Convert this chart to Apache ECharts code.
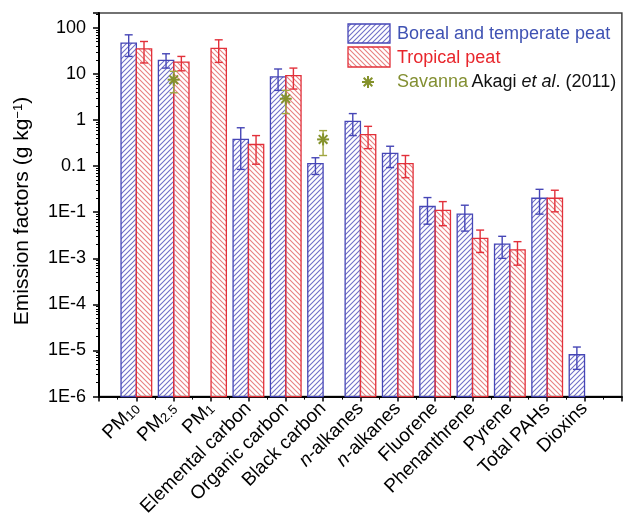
<!DOCTYPE html>
<html>
<head>
<meta charset="utf-8">
<script src="https://cdn.jsdelivr.net/npm/echarts@6/dist/echarts.min.js"></script>
<style>
html,body{margin:0;padding:0;background:#fff;}
#chart{width:624px;height:519px;}
</style>
</head>
<body>
<div id="chart"></div>
<script>
// ---- data ----
const categories = ['PM10','PM2.5','PM1','Elemental carbon','Organic carbon','Black carbon','n-alkanes','n-alkanes','Fluorene','Phenanthrene','Pyrene','Total PAHs','Dioxins'];
const boreal      = [46.7, 19.7, null, 0.38, 8.6, 0.113, 0.94, 0.19, 0.0133, 0.0091, 0.00203, 0.0201, 8.1e-6];
const borealLow   = [24,   13.4, null, 0.085, 4.4, 0.066, 0.46, 0.093, 0.0055, 0.0039, 0.001, 0.0091, 3.9e-6];
const borealHigh  = [70.6, 27.4, null, 0.68, 12.8, 0.152, 1.38, 0.27, 0.0208, 0.0142, 0.003, 0.0314, 1.19e-5];
const tropical     = [35,   18.1, 36,   0.295, 9.2, null, 0.485, 0.113, 0.011, 0.0027, 0.00153, 0.0201, null];
const tropicalLow  = [17.3, 11.7, 17.8, 0.11,  4.7, null, 0.24,  0.056, 0.0051, 0.00134, 0.00071, 0.0102, null];
const tropicalHigh = [50.6, 24,   55,   0.46, 13.4, null, 0.73,  0.17,  0.017, 0.0041, 0.0023, 0.03, null];
const savanna     = [null, 7.5, null, null, 2.9, 0.38, null, null, null, null, null, null, null];
const savannaLow  = [null, 3.9, null, null, 1.38, 0.17, null, null, null, null, null, null, null];
const savannaHigh = [null, 11.4, null, null, 4.4, 0.59, null, null, null, null, null, null, null];
const yTickLabels = {'2':'100','1':'10','0':'1','-1':'0.1','-2':'1E-1','-3':'1E-3','-4':'1E-4','-5':'1E-5','-6':'1E-6'};
const yMin = 1e-6, yMax = 210;

// ---- styles ----
const FONT = 'Liberation Sans, Arial, Helvetica, sans-serif';
const BLUE = '#4646b6', BLUE_H = '#7070c8', RED = '#e2303a', RED_H = '#e88080', OLIVE = '#85922c';

function hatch(color, dir) {
  const s = 5, c = document.createElement('canvas');
  c.width = s; c.height = s;
  const ctx = c.getContext('2d');
  ctx.strokeStyle = color; ctx.lineWidth = 1.1;
  ctx.beginPath();
  if (dir > 0) {
    ctx.moveTo(0, s); ctx.lineTo(s, 0);
    ctx.moveTo(-1, 1); ctx.lineTo(1, -1);
    ctx.moveTo(s - 1, s + 1); ctx.lineTo(s + 1, s - 1);
  } else {
    ctx.moveTo(0, 0); ctx.lineTo(s, s);
    ctx.moveTo(-1, s - 1); ctx.lineTo(1, s + 1);
    ctx.moveTo(s - 1, -1); ctx.lineTo(s + 1, 1);
  }
  ctx.stroke();
  return c;
}
const patBlue = {image: hatch(BLUE_H, 1), repeat: 'repeat'};
const patRed = {image: hatch(RED_H, -1), repeat: 'repeat'};

function toItems(v, lo, hi) {
  const out = [];
  v.forEach((val, i) => { if (val != null) out.push([i + 1, val, lo[i], hi[i]]); });
  return out;
}

function errorBar(cx, pLo, pHi, color, cap, lw) {
  return [
    {type: 'line', shape: {x1: cx, y1: pHi, x2: cx, y2: pLo}, style: {stroke: color, lineWidth: lw}},
    {type: 'line', shape: {x1: cx - cap, y1: pHi, x2: cx + cap, y2: pHi}, style: {stroke: color, lineWidth: lw}},
    {type: 'line', shape: {x1: cx - cap, y1: pLo, x2: cx + cap, y2: pLo}, style: {stroke: color, lineWidth: lw}}
  ];
}

function barRenderer(side, color, pat) {
  return function (params, api) {
    const x = api.value(0), v = api.value(1), lo = api.value(2), hi = api.value(3);
    const top = api.coord([x, v]);
    const base = api.coord([x, yMin]);
    const w = api.size([1, 1])[0] * 0.41;
    const x0 = side < 0 ? top[0] - w : top[0];
    const cx = x0 + w / 2;
    const pLo = api.coord([x, lo])[1], pHi = api.coord([x, hi])[1];
    return {
      type: 'group',
      children: [
        {type: 'rect', shape: {x: x0, y: top[1], width: w, height: base[1] - top[1]},
         style: {fill: pat, stroke: color, lineWidth: 1.3}}
      ].concat(errorBar(cx, pLo, pHi, color, 4, 1.4))
    };
  };
}

function starShape(cx, cy, r, color) {
  const d = r * 0.72;
  return [
    {type: 'line', shape: {x1: cx - r, y1: cy, x2: cx + r, y2: cy}, style: {stroke: color, lineWidth: 2}},
    {type: 'line', shape: {x1: cx, y1: cy - r, x2: cx, y2: cy + r}, style: {stroke: color, lineWidth: 2}},
    {type: 'line', shape: {x1: cx - d, y1: cy - d, x2: cx + d, y2: cy + d}, style: {stroke: color, lineWidth: 2}},
    {type: 'line', shape: {x1: cx - d, y1: cy + d, x2: cx + d, y2: cy - d}, style: {stroke: color, lineWidth: 2}}
  ];
}

function savannaRenderer(params, api) {
  const x = api.value(0), v = api.value(1), lo = api.value(2), hi = api.value(3);
  const p = api.coord([x, v]);
  const pLo = api.coord([x, lo])[1], pHi = api.coord([x, hi])[1];
  return {type: 'group', children: errorBar(p[0], pLo, pHi, '#a0a640', 4, 1.4).concat(starShape(p[0], p[1], 6, OLIVE))};
}

function xLabel(name) {
  if (name.indexOf('PM') === 0) return '{n|PM}{s|' + name.slice(2) + '}';
  if (name.indexOf('n-') === 0) return '{i|n}{n|' + name.slice(1) + '}';
  return '{n|' + name + '}';
}

const chart = echarts.init(document.getElementById('chart'), null, {renderer: 'canvas'});
chart.setOption({
  animation: false,
  backgroundColor: '#fff',
  grid: {left: 99, top: 13, right: -2, bottom: 121, show: true, borderColor: '#444', borderWidth: 1.5, backgroundColor: 'transparent'},
  xAxis: {
    type: 'value', min: 0, max: 14, interval: 1,
    axisLine: {show: true, onZero: false, lineStyle: {color: '#000', width: 2}},
    axisTick: {show: true, length: 5, inside: false, lineStyle: {color: '#000', width: 1.5}},
    minorTick: {show: true, splitNumber: 2, length: 3, lineStyle: {color: '#000', width: 1}},
    splitLine: {show: false},
    axisLabel: {
      rotate: 45, margin: 9, color: '#000', fontFamily: FONT, fontSize: 19,
      showMinLabel: true, showMaxLabel: true,
      formatter: function (v) {
        const i = Math.round(v) - 1;
        if (i < 0 || i >= categories.length) return '';
        return xLabel(categories[i]);
      },
      rich: {
        n: {fontSize: 19, fontFamily: FONT, color: '#000'},
        i: {fontSize: 19, fontFamily: FONT, color: '#000', fontStyle: 'italic'},
        s: {fontSize: 13, fontFamily: FONT, color: '#000', verticalAlign: 'bottom', padding: [6, 0, 0, 0]}
      }
    }
  },
  yAxis: {
    type: 'log', logBase: 10, min: yMin, max: yMax, splitNumber: 8,
    axisLine: {show: true, lineStyle: {color: '#000', width: 2}},
    axisTick: {show: true, length: 6, lineStyle: {color: '#000', width: 1.5}},
    minorTick: {show: true, splitNumber: 9, length: 3, lineStyle: {color: '#000', width: 1}},
    splitLine: {show: false},
    axisLabel: {
      margin: 13, color: '#000', fontFamily: FONT, fontSize: 18,
      formatter: function (v) {
        const lg = Math.log10(v), k = Math.round(lg);
        if (Math.abs(lg - k) > 0.01) return '';
        return yTickLabels[String(k)] || '';
      }
    }
  },
  graphic: [
    {type: 'text', x: 22, y: 211, rotation: Math.PI / 2,
     style: {text: '{a|Emission factors (g kg}{sup|−1}{a|)}', align: 'center', verticalAlign: 'middle',
       rich: {a: {fontSize: 21, fontFamily: FONT, fill: '#000'}, sup: {fontSize: 13, fontFamily: FONT, fill: '#000', verticalAlign: 'top'}}}},
    {type: 'rect', shape: {x: 348, y: 24, width: 42, height: 19}, style: {fill: patBlue, stroke: BLUE, lineWidth: 1.3}},
    {type: 'rect', shape: {x: 348, y: 47, width: 42, height: 20}, style: {fill: patRed, stroke: RED, lineWidth: 1.3}},
    {type: 'group', children: starShape(368, 82, 6, OLIVE)},
    {type: 'text', x: 397, y: 34, style: {text: 'Boreal and temperate peat', fontSize: 18, fontFamily: FONT, fill: '#3f52b3', verticalAlign: 'middle'}},
    {type: 'text', x: 397, y: 58, style: {text: 'Tropical peat', fontSize: 18, fontFamily: FONT, fill: '#e8262c', verticalAlign: 'middle'}},
    {type: 'text', x: 397, y: 82, style: {text: '{g|Savanna} {k|Akagi }{it|et al}{k|. (2011)}', verticalAlign: 'middle',
      rich: {g: {fontSize: 18, fontFamily: FONT, fill: '#838f32'}, k: {fontSize: 18, fontFamily: FONT, fill: '#111'}, it: {fontSize: 18, fontFamily: FONT, fill: '#111', fontStyle: 'italic'}}}}
  ],
  series: [
    {type: 'custom', name: 'Boreal and temperate peat', renderItem: barRenderer(-1, BLUE, patBlue), data: toItems(boreal, borealLow, borealHigh), encode: {x: 0, y: 1}, z: 2},
    {type: 'custom', name: 'Tropical peat', renderItem: barRenderer(1, RED, patRed), data: toItems(tropical, tropicalLow, tropicalHigh), encode: {x: 0, y: 1}, z: 2},
    {type: 'custom', name: 'Savanna', renderItem: savannaRenderer, data: toItems(savanna, savannaLow, savannaHigh), encode: {x: 0, y: 1}, z: 3}
  ]
});
</script>
</body>
</html>
